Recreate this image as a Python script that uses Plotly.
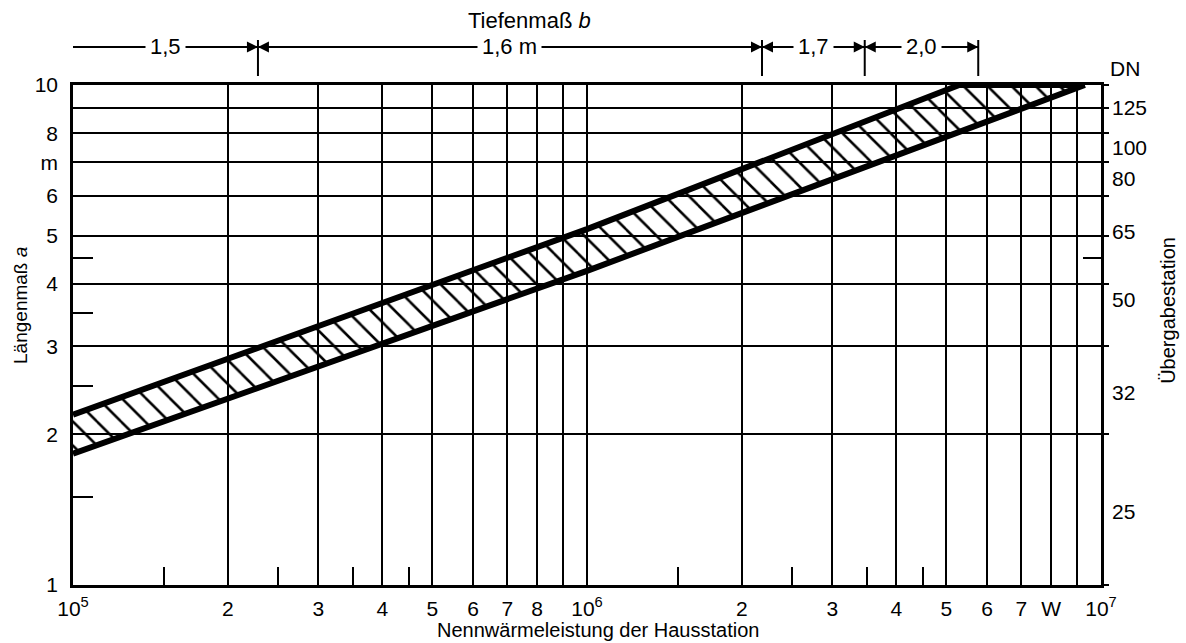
import numpy as np
import plotly.graph_objects as go

# ---------------- data ----------------
x_major = [1e5, 2e5, 3e5, 4e5, 5e5, 6e5, 7e5, 8e5, 9e5, 1e6,
           2e6, 3e6, 4e6, 5e6, 6e6, 7e6, 8e6, 9e6, 1e7]
x_ticktext = ['10<sup>5</sup>', '2', '3', '4', '5', '6', '7', '8', '', '10<sup>6</sup>',
              '2', '3', '4', '5', '6', '7', 'W', '', '10<sup>7</sup>']
x_minor = [1.5e5, 2.5e5, 3.5e5, 4.5e5, 1.5e6, 2.5e6, 3.5e6, 4.5e6]

y_major = [1, 2, 3, 4, 5, 6, 7, 8, 9, 10]
y_ticktext = ['1', '2', '3', '4', '5', '6', 'm', '8', '', '10']
y_minor_left = [1.5, 2.5, 3.5, 4.5]
y_minor_right = [4.5]

dn_pos = [8.99, 7.48, 6.49, 5.08, 3.72, 2.43, 1.40]
dn_text = ['125', '100', '80', '65', '50', '32', '25']

upper_x = [1e5, 1e6, 5.3e6, 9.3e6]
upper_y = [2.19, 5.15, 10, 10]
lower_x = [1e5, 1e6, 9.3e6]
lower_y = [1.83, 4.25, 10]

depth_bounds = [1e5, 2.29e5, 2.19e6, 3.47e6, 5.77e6]
depth_labels = ['1,5', '1,6 m', '1,7', '2,0']

# ---------------- figure ----------------
FONT = "Liberation Sans, Arial, sans-serif"
TICKFONT = dict(family=FONT, size=21, color='black')
fig = go.Figure()

poly_x = upper_x + lower_x[::-1]
poly_y = upper_y + lower_y[::-1]
fig.add_trace(go.Scatter(
    x=poly_x, y=poly_y, mode='lines', line=dict(width=0),
    fill='toself', fillcolor='rgba(0,0,0,0)',
    fillpattern=dict(shape='\\', size=17, solidity=0.15, fgcolor='black',
                     fillmode='replace'),
    hoverinfo='skip', showlegend=False))
fig.add_trace(go.Scatter(x=upper_x, y=upper_y, mode='lines',
                         line=dict(color='black', width=6), showlegend=False))
fig.add_trace(go.Scatter(x=lower_x, y=lower_y, mode='lines',
                         line=dict(color='black', width=6), showlegend=False))
# invisible traces to activate secondary axes
fig.add_trace(go.Scatter(x=[1e5], y=[1], yaxis='y2', mode='markers',
                         marker=dict(opacity=0), showlegend=False, hoverinfo='skip'))
fig.add_trace(go.Scatter(x=[1e5], y=[1], yaxis='y3', mode='markers',
                         marker=dict(opacity=0), showlegend=False, hoverinfo='skip'))

axis_common = dict(type='log', showgrid=True, gridcolor='black', gridwidth=2,
                   zeroline=False, showline=True, linecolor='black', linewidth=2.5,
                   mirror=True, ticks='', tickfont=TICKFONT)

fig.update_layout(
    width=1186, height=643,
    margin=dict(l=73, r=85, t=85, b=58),
    paper_bgcolor='white', plot_bgcolor='white',
    font=dict(family=FONT, color='black', size=21),
    showlegend=False,
    xaxis=dict(range=[5, 7], tickmode='array', tickvals=x_major, ticktext=x_ticktext,
               ticklabelstandoff=3,
               minor=dict(tickmode='array', tickvals=x_minor, ticks='inside',
                          ticklen=18, tickwidth=2, tickcolor='black', showgrid=False),
               **axis_common),
    yaxis=dict(range=[0, 1], tickmode='array', tickvals=y_major, ticktext=y_ticktext,
               ticklabelstandoff=8,
               minor=dict(tickmode='array', tickvals=y_minor_left, ticks='inside',
                          ticklen=20, tickwidth=2, tickcolor='black', showgrid=False),
               **axis_common),
    yaxis2=dict(type='log', range=[0, 1], overlaying='y', side='right', anchor='x',
                showgrid=False, zeroline=False, showline=False,
                tickmode='array', tickvals=dn_pos, ticktext=dn_text, ticks='',
                ticklabelstandoff=10, tickfont=TICKFONT,
                minor=dict(tickmode='array', tickvals=y_major, ticks='outside',
                           ticklen=7, tickwidth=2, tickcolor='black', showgrid=False)),
    yaxis3=dict(type='log', range=[0, 1], overlaying='y', side='right', anchor='x',
                showgrid=False, zeroline=False, showline=False,
                tickmode='array', tickvals=y_minor_right, ticks='inside',
                ticklen=18, tickwidth=2, tickcolor='black', showticklabels=False),
)

# ---------------- header dimension line ----------------
Y_DIM = 1.076
shapes = []
annotations = []
for i, lab in enumerate(depth_labels):
    a, b = depth_bounds[i], depth_bounds[i + 1]
    shapes.append(dict(type='line', xref='x', yref='paper', x0=a, x1=b,
                       y0=Y_DIM, y1=Y_DIM, line=dict(color='black', width=1.8)))
    annotations.append(dict(x=(np.log10(a) + np.log10(b)) / 2, y=Y_DIM, xref='x', yref='paper',
                            text=lab, showarrow=False, bgcolor='white', borderpad=4,
                            font=dict(family=FONT, size=22, color='black'),
                            xanchor='center', yanchor='middle'))
for j, b in enumerate(depth_bounds[1:], start=1):
    shapes.append(dict(type='line', xref='x', yref='paper', x0=b, x1=b,
                       y0=1.018, y1=1.09, line=dict(color='black', width=2)))
    annotations.append(dict(x=np.log10(b), y=Y_DIM, xref='x', yref='paper', text='',
                            showarrow=True, ax=-20, ay=0, axref='pixel', ayref='pixel',
                            arrowhead=2, arrowsize=1.1, arrowwidth=2, arrowcolor='black',
                            standoff=0))
    if j < len(depth_bounds) - 1:
        annotations.append(dict(x=np.log10(b), y=Y_DIM, xref='x', yref='paper', text='',
                                showarrow=True, ax=20, ay=0, axref='pixel', ayref='pixel',
                                arrowhead=2, arrowsize=1.1, arrowwidth=2, arrowcolor='black',
                                standoff=0))

annotations += [
    dict(x=0.4436, y=1.13, xref='paper', yref='paper', text='Tiefenmaß <i>b</i>',
         showarrow=False, font=dict(family=FONT, size=22, color='black'),
         xanchor='center', yanchor='middle'),
    dict(x=1.0068, y=1.032, xref='paper', yref='paper', text='DN',
         showarrow=False, font=dict(family=FONT, size=21, color='black'),
         xanchor='left', yanchor='middle'),
    dict(x=-0.0516, y=0.56, xref='paper', yref='paper', text='Längenmaß <i>a</i>',
         textangle=-90, showarrow=False, font=dict(family=FONT, size=19, color='black'),
         xanchor='center', yanchor='middle'),
    dict(x=1.065, y=0.55, xref='paper', yref='paper', text='Übergabestation',
         textangle=-90, showarrow=False, font=dict(family=FONT, size=20, color='black'),
         xanchor='center', yanchor='middle'),
    dict(x=0.511, y=-0.115, xref='paper', yref='paper', text='Nennwärmeleistung der Hausstation',
         showarrow=False, font=dict(family=FONT, size=20, color='black'),
         xanchor='center', yanchor='bottom'),
]

fig.update_layout(shapes=shapes, annotations=annotations)
fig.write_html("out.html")
